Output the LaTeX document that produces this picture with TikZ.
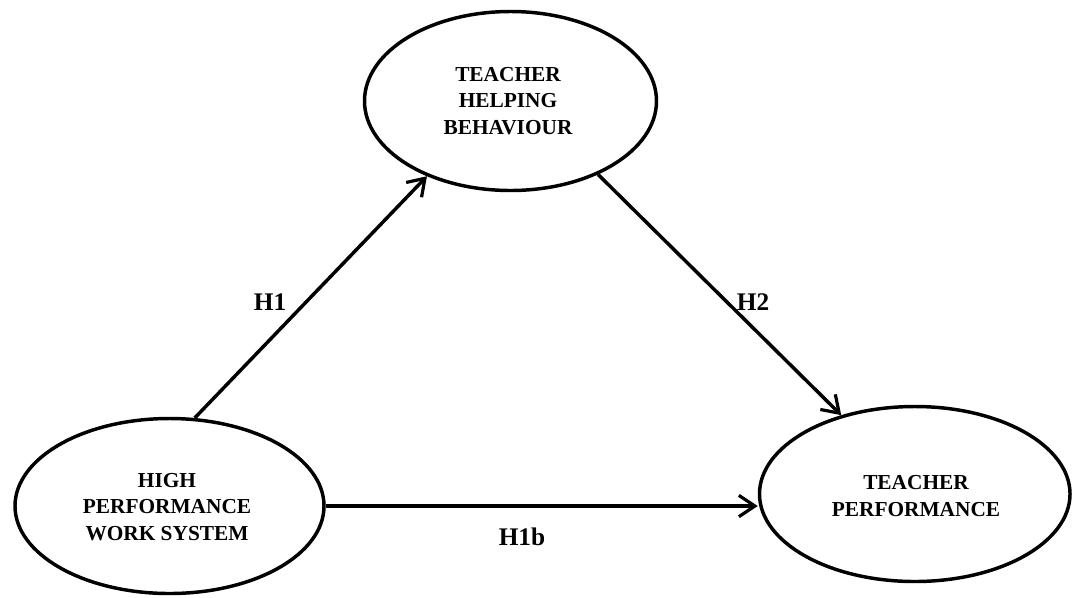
\documentclass[tikz,border=0pt]{standalone}
\usepackage{fontspec}
\setmainfont{Liberation Serif}
\usetikzlibrary{shapes.geometric}
\usetikzlibrary{arrows.meta}

\begin{document}
\begin{tikzpicture}[x=0.75pt, y=-0.75pt,
    construct/.style={ellipse, draw, line width=2.6pt, inner sep=0pt,
      align=center, font=\fontsize{16}{20}\selectfont\bfseries},
    hyp/.style={line width=2.6pt, -{Straight Barb[length=12pt, width=16pt, line width=2.4pt]}},
    hyplabel/.style={font=\fontsize{19}{22}\selectfont\bfseries}]

        \useasboundingbox (0,0) rectangle (1073,597);

        % the three constructs
        \node[construct, minimum width=219pt, minimum height=134.25pt] (thb) at (510.5,101) {};
        \node[construct, minimum width=231.75pt, minimum height=131.25pt] (hpws) at (169.5,506) {};
        \node[construct, minimum width=232.9pt, minimum height=131.25pt] (tp) at (914.75,494) {};

        \node[align=center, font=\fontsize{16}{20}\selectfont\bfseries] (thbtext) at (508,101) {TEACHER\\HELPING\\BEHAVIOUR};
        \node[align=center, font=\fontsize{16}{20}\selectfont\bfseries] (hpwstext) at (167,507) {HIGH\\PERFORMANCE\\WORK SYSTEM};
        \node[align=center, font=\fontsize{16}{20}\selectfont\bfseries] (tptext) at (916,496) {TEACHER\\PERFORMANCE};

        % hypotheses
        \draw[hyp] (hpws.74) -- (thb.222.65);
        \draw[hyp] (thb.320.4) -- (tp.133.8);
        \draw[hyp] (hpws.east) -- (hpws.east -| tp.west);

        \node[hyplabel] (h1) at (270,302) {H1};
        \node[hyplabel] (h2) at (753,302) {H2};
        \node[hyplabel] (h1b) at (522,537) {H1b};
      \end{tikzpicture}
\end{document}
